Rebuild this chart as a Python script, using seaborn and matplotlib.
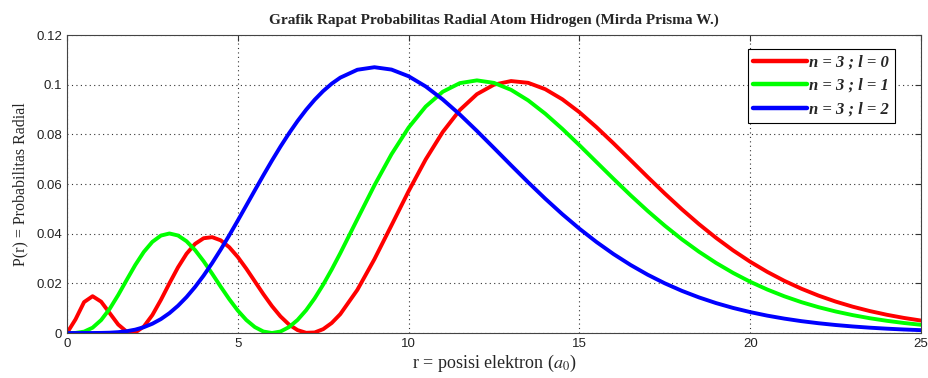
import numpy as np
import pandas as pd
import matplotlib
matplotlib.use("Agg")
import matplotlib.pyplot as plt
import seaborn as sns

r = [0, 0.25, 0.5, 0.75, 1.0, 1.25, 1.5, 1.75, 2.0, 2.25, 2.5, 2.75, 3.0, 3.25, 3.5, 3.75,
     4.0, 4.25, 4.5, 4.75, 5.0, 5.25, 5.5, 5.75, 6.0, 6.25, 6.5, 6.75, 7.0, 7.25, 7.5, 7.75,
     8.0, 8.5, 9.0, 9.5, 10, 10.5, 11, 11.5, 12, 12.5, 13, 13.5, 14, 14.5, 15, 15.5, 16, 16.5,
     17, 17.5, 18, 18.5, 19, 19.5, 20, 20.5, 21, 21.5, 22, 22.5, 23, 23.5, 24, 24.5, 25]

p_l0 = [0, 0.00550, 0.01246, 0.01483, 0.01263, 0.00802, 0.00341, 0.00051, 0.00021, 0.00261,
        0.00726, 0.01336, 0.02005, 0.02647, 0.03193, 0.03592, 0.03818, 0.03862, 0.03734, 0.03457,
        0.03063, 0.02590, 0.02078, 0.01565, 0.01085, 0.00669, 0.00341, 0.00117, 0.00009, 0.00022,
        0.00156, 0.00405, 0.00760, 0.01738, 0.02975, 0.04340, 0.05713, 0.06992, 0.08099, 0.08984,
        0.09622, 0.10006, 0.10151, 0.10080, 0.09823, 0.09416, 0.08895, 0.08292, 0.07639, 0.06963,
        0.06283, 0.05619, 0.04984, 0.04387, 0.03834, 0.03328, 0.02871, 0.02463, 0.02101, 0.01784,
        0.01507, 0.01267, 0.01061, 0.00885, 0.00735, 0.00608, 0.00502]

p_l1 = [0, 0.00004, 0.00055, 0.00215, 0.00522, 0.00973, 0.01533, 0.02144, 0.02743, 0.03269,
        0.03674, 0.03926, 0.04010, 0.03929, 0.03697, 0.03340, 0.02892, 0.02389, 0.01867, 0.01363,
        0.00906, 0.00524, 0.00238, 0.00060, 0, 0.00060, 0.00238, 0.00527, 0.00918, 0.01397,
        0.01950, 0.02561, 0.03215, 0.04587, 0.05949, 0.07203, 0.08276, 0.09123, 0.09720, 0.10067,
        0.10178, 0.10077, 0.09797, 0.09372, 0.08836, 0.08225, 0.07567, 0.06887, 0.06209, 0.05547,
        0.04916, 0.04323, 0.03775, 0.03275, 0.02824, 0.02421, 0.02064, 0.01752, 0.01479, 0.01243,
        0.01041, 0.00868, 0.00721, 0.00596, 0.00492, 0.00404, 0.00331]

p_l2 = [0, 0, 0.000001, 0.000009, 0.00004, 0.00013, 0.00034, 0.00073, 0.00137, 0.00235,
        0.00375, 0.00562, 0.00802, 0.01098, 0.01449, 0.01856, 0.02314, 0.02818, 0.03361, 0.03935,
        0.04531, 0.05140, 0.05752, 0.06357, 0.06947, 0.07512, 0.08046, 0.08541, 0.08993, 0.09397,
        0.09748, 0.10046, 0.10288, 0.10606, 0.10708, 0.10613, 0.10345, 0.09934, 0.09409, 0.08803,
        0.08142, 0.07453, 0.06758, 0.06073, 0.05412, 0.04787, 0.04204, 0.03667, 0.03179, 0.02740,
        0.02348, 0.02002, 0.01699, 0.01435, 0.01206, 0.01010, 0.00843, 0.00700, 0.00580, 0.00478,
        0.00394, 0.00323, 0.00264, 0.00215, 0.00175, 0.00142, 0.00115]

labels = ["n = 3 ; l = 0", "n = 3 ; l = 1", "n = 3 ; l = 2"]
colors = ["#ff0000", "#00ff00", "#0000ff"]

df = pd.DataFrame({
    "r": r * 3,
    "P": p_l0 + p_l1 + p_l2,
    "seri": [labels[0]] * len(r) + [labels[1]] * len(r) + [labels[2]] * len(r),
})

sns.set_style("white")
plt.rcParams["font.family"] = ["Liberation Sans", "DejaVu Sans"]
plt.rcParams["mathtext.fontset"] = "stix"

fig = plt.figure(figsize=(9.29, 3.78), dpi=100)
ax = fig.add_axes([0.0721, 0.119, 0.9193, 0.788])

sns.lineplot(data=df, x="r", y="P", hue="seri", palette=dict(zip(labels, colors)),
             linewidth=2.8, ax=ax, sort=False, solid_joinstyle="round",
             solid_capstyle="round")

ax.set_xlim(0, 25)
ax.set_ylim(0, 0.12)
ax.set_xticks([0, 5, 10, 15, 20, 25])
ax.set_yticks([0, 0.02, 0.04, 0.06, 0.08, 0.1, 0.12])
ax.set_xticklabels(["0", "5", "10", "15", "20", "25"])
ax.set_yticklabels(["0", "0.02", "0.04", "0.06", "0.08", "0.1", "0.12"])
ax.tick_params(direction="in", length=4, width=0.8, labelsize=9.5, colors="#333333",
               top=True, right=True, labelcolor="#222222")
ax.grid(True, linestyle=(0, (1, 3)), color="#333333", linewidth=0.8)
for s in ax.spines.values():
    s.set_color("#444444")
    s.set_linewidth(0.8)

ax.set_title("Grafik Rapat Probabilitas Radial Atom Hidrogen (Mirda Prisma W.)",
             family="Liberation Serif", fontweight="bold", fontsize=11, pad=8)
ax.set_xlabel(r"r = posisi elektron ($a_0$)", family="Liberation Serif",
              fontsize=13, labelpad=2)
ax.set_ylabel("P(r) = Probabilitas Radial", family="Liberation Serif", fontsize=11.5,
              labelpad=6)

leg = ax.legend(loc="upper right", bbox_to_anchor=(0.9695, 0.955), frameon=True,
                fancybox=False, edgecolor="black", framealpha=1,
                prop={"family": "Liberation Serif", "weight": "bold", "style": "italic",
                      "size": 12},
                handlelength=3.2, handletextpad=0.15, borderpad=0.35, labelspacing=0.45,
                borderaxespad=0)
leg.get_frame().set_linewidth(0.8)
for h in leg.get_lines():
    h.set_linewidth(3.2)

fig.savefig("out.png", dpi=100)
